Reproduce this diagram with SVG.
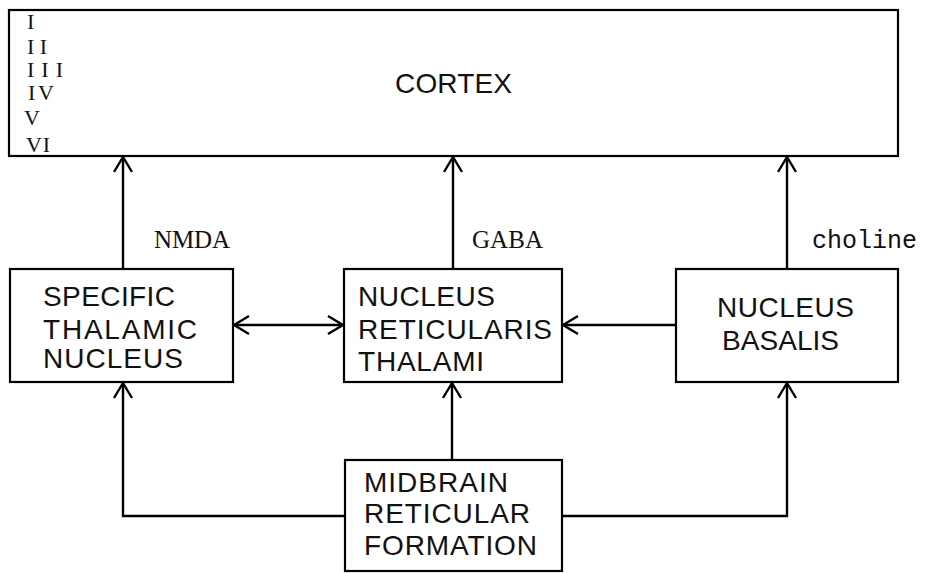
<svg xmlns="http://www.w3.org/2000/svg" width="929" height="573" viewBox="0 0 929 573">
<style>
.box{fill:#fff;stroke:#000;stroke-width:2.2}
.lbl{font-family:"Liberation Sans",Arial,sans-serif;font-size:28px;fill:#111}
.rom{font-family:"Liberation Serif","Times New Roman",serif;font-size:22px;fill:#111}
.tr{font-family:"Liberation Serif","Times New Roman",serif;font-size:25px;fill:#111}
.trm{font-family:"Liberation Mono","Courier New",monospace;font-size:25px;fill:#111}
.ln{fill:none;stroke:#000;stroke-width:2.4}
</style>
<defs>
<marker id="ah" markerUnits="userSpaceOnUse" markerWidth="40" markerHeight="40" viewBox="-20 -20 40 40" refX="0" refY="0" orient="auto-start-reverse">
<path d="M-15,-9 L0,0 L-15,9" fill="none" stroke="#000" stroke-width="2.4"/>
</marker>
</defs>
<rect width="929" height="573" fill="#fff"/>
<g id="cortex">
<rect class="box" x="9" y="10" width="889" height="146"/>
<text class="rom" x="27" y="29" textLength="8">I</text>
<text class="rom" x="27" y="54" textLength="20">I I</text>
<text class="rom" x="27" y="77" textLength="36">I I I</text>
<text class="rom" x="28" y="100" textLength="26">IV</text>
<text class="rom" x="24" y="125" textLength="19">V</text>
<text class="rom" x="26" y="152" textLength="24">VI</text>
<text class="lbl" x="395" y="93" textLength="117">CORTEX</text>
</g>
<g id="specific">
<rect class="box" x="10" y="269" width="223" height="113"/>
<text class="lbl" x="43" y="306" textLength="132">SPECIFIC</text>
<text class="lbl" x="43" y="339" textLength="154">THALAMIC</text>
<text class="lbl" x="43" y="368" textLength="140">NUCLEUS</text>
</g>
<g id="nrt">
<rect class="box" x="344" y="269" width="218" height="113"/>
<text class="lbl" x="358" y="306" textLength="137">NUCLEUS</text>
<text class="lbl" x="358" y="339" textLength="194">RETICULARIS</text>
<text class="lbl" x="358" y="371" textLength="126">THALAMI</text>
</g>
<g id="basalis">
<rect class="box" x="676" y="269" width="222" height="113"/>
<text class="lbl" x="717" y="317" textLength="137">NUCLEUS</text>
<text class="lbl" x="722" y="350" textLength="117">BASALIS</text>
</g>
<g id="midbrain">
<rect class="box" x="345" y="460" width="217" height="111"/>
<text class="lbl" x="364" y="492" textLength="144">MIDBRAIN</text>
<text class="lbl" x="364" y="523" textLength="166">RETICULAR</text>
<text class="lbl" x="364" y="555" textLength="173">FORMATION</text>
</g>
<g id="connectors">
<line class="ln" x1="123" y1="269" x2="123" y2="157" marker-end="url(#ah)"/>
<line class="ln" x1="453" y1="269" x2="453" y2="157" marker-end="url(#ah)"/>
<line class="ln" x1="787" y1="269" x2="787" y2="157" marker-end="url(#ah)"/>
<line class="ln" x1="234" y1="325" x2="343" y2="325" marker-start="url(#ah)" marker-end="url(#ah)"/>
<line class="ln" x1="676" y1="325" x2="563" y2="325" marker-end="url(#ah)"/>
<line class="ln" x1="452" y1="460" x2="452" y2="383" marker-end="url(#ah)"/>
<polyline class="ln" points="345,516 123,516 123,383" marker-end="url(#ah)"/>
<polyline class="ln" points="562,516 787,516 787,383" marker-end="url(#ah)"/>
<text class="tr" x="154" y="248" textLength="76">NMDA</text>
<text class="tr" x="472" y="248" textLength="71">GABA</text>
<text class="trm" x="812" y="248" textLength="105">choline</text>
</g>
</svg>
